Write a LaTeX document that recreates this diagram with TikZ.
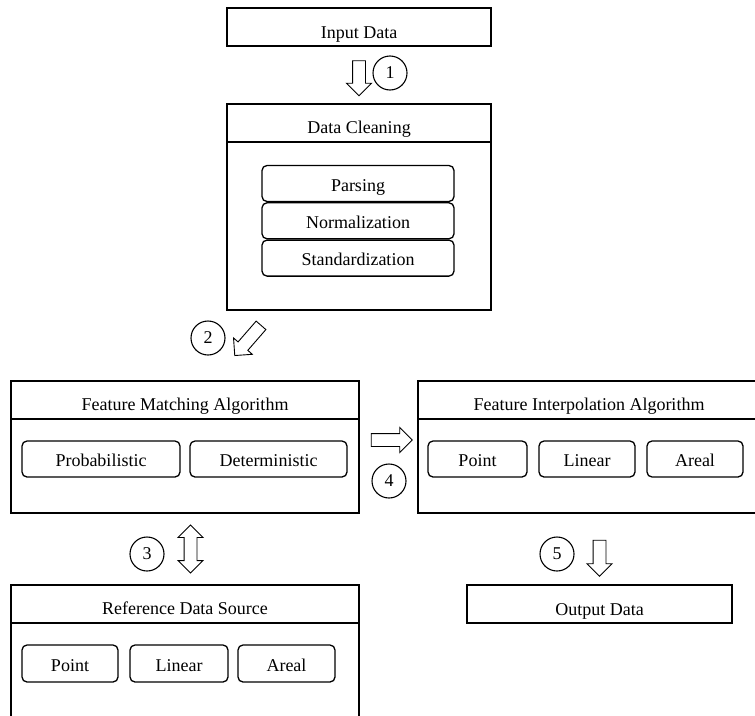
\documentclass[tikz,border=0pt]{standalone}
\usepackage{fontspec}
\setmainfont{Liberation Serif}
\usetikzlibrary{shapes.arrows}

\tikzset{
  groupbox/.style={draw, line width=1.1pt, inner sep=0pt},
  titlebar/.style={inner sep=0pt, minimum height=38, text height=22pt, text depth=0pt},
  sepline/.style={line width=2pt},
  itembox/.style={draw, rounded corners=5pt, line width=1.3pt, inner sep=0pt,
    minimum height=36, text height=15pt, text depth=0pt},
  stepnum/.style={draw, circle, line width=1.1pt, minimum size=34, inner sep=0pt},
  blockarrow/.style={single arrow, draw, line width=0.9pt, inner sep=0pt,
    text height=12pt, text depth=0pt, single arrow head extend=6pt,
    single arrow head indent=0pt},
  dblarrow/.style={double arrow, draw, line width=0.9pt, inner sep=0pt,
    text height=12pt, text depth=0pt, double arrow head extend=6pt,
    double arrow head indent=0pt},
}

\begin{document}
\begin{tikzpicture}[x=1pt, y=-1pt, font=\fontsize{18}{21}\selectfont]
  \useasboundingbox (0,0) rectangle (755,715);

  % input / output
  \node[groupbox, titlebar, minimum width=264] (input) at (359,27) {Input Data};
  \node[groupbox, titlebar, minimum width=265] (output) at (599.5,604) {Output Data};

  % data cleaning
  \node[groupbox, minimum width=264, minimum height=206] (clean) at (359,207) {};
  \node[titlebar, minimum width=264, anchor=north] (cleantitle) at (clean.north) {Data Cleaning};
  \draw[sepline] (cleantitle.south west) -- (cleantitle.south east);
  \node[itembox, minimum width=192] (parsing) at (358,183.5) {Parsing};
  \node[itembox, minimum width=192, anchor=north] (normal) at (parsing.south) {Normalization};
  \node[itembox, minimum width=192, anchor=north] (standard) at (normal.south) {Standardization};

  % feature matching
  \node[groupbox, minimum width=348, minimum height=132] (match) at (185,447) {};
  \node[titlebar, minimum width=348, anchor=north] (matchtitle) at (match.north) {Feature Matching Algorithm};
  \draw[sepline] (matchtitle.south west) -- (matchtitle.south east);
  \node[itembox, minimum width=158] (prob) at (101,459) {Probabilistic};
  \node[itembox, minimum width=157] (determ) at (268.5,459) {Deterministic};

  % feature interpolation
  \node[groupbox, minimum width=342, minimum height=132] (interp) at (589,447) {};
  \node[titlebar, minimum width=342, anchor=north] (interptitle) at (interp.north) {Feature Interpolation Algorithm};
  \draw[sepline] (interptitle.south west) -- (interptitle.south east);
  \node[itembox, minimum width=99] (ipoint) at (477.5,459) {Point};
  \node[itembox, minimum width=96] (ilinear) at (587,459) {Linear};
  \node[itembox, minimum width=96] (iareal) at (695,459) {Areal};

  % reference data source
  \node[groupbox, minimum width=348, minimum height=160] (refsrc) at (185,665) {};
  \node[titlebar, minimum width=348, anchor=north] (refsrctitle) at (refsrc.north) {Reference Data Source};
  \draw[sepline] (refsrctitle.south west) -- (refsrctitle.south east);
  \node[itembox, minimum width=96, minimum height=37] (rpoint) at (70,663.5) {Point};
  \node[itembox, minimum width=98, minimum height=37] (rlinear) at (179,663.5) {Linear};
  \node[itembox, minimum width=97, minimum height=37] (rareal) at (286.5,663.5) {Areal};

  % steps
  \path (input.south) -- (clean.north) node[blockarrow, midway, minimum height=35, rotate=-90] (a1) {};
  \node[stepnum] (n1) at (390,73) {1};
  \node[blockarrow, minimum height=40, rotate=-131] (a2) at (250,338) {};
  \node[stepnum] (n2) at (208,338) {2};
  \node[dblarrow, minimum height=48, rotate=90] (a3) at (190.5,549) {};
  \node[stepnum] (n3) at (147,554) {3};
  \node[blockarrow, minimum height=41] (a4) at (388.5,440) {};
  \node[stepnum] (n4) at (389,481) {4};
  \node[blockarrow, minimum height=36, rotate=-90] (a5) at (599.5,555) {};
  \node[stepnum] (n5) at (557,554) {5};
\end{tikzpicture}
\end{document}
